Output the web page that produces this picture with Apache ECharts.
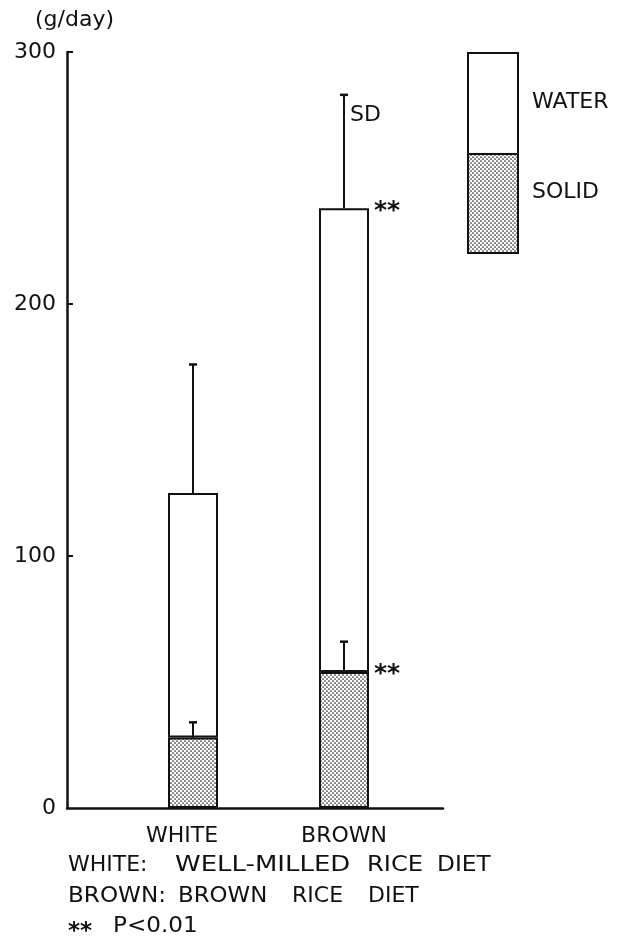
<!DOCTYPE html>
<html><head><meta charset="utf-8">
<script src="https://cdn.jsdelivr.net/npm/echarts@6/dist/echarts.min.js"></script>
<style>html,body{margin:0;padding:0;background:#fff}#c{width:627px;height:938px}</style>
</head><body><div id="c"></div>
<script>
// ---- data ----
const categories = ['WHITE', 'BROWN'];
const solidMean = [28, 54];
const solidSD = [6, 12];
const totalMean = [125, 238];
const totalSD = [51, 45];
const sigTotal = ['', '**'];
const sigSolid = ['', '**'];
const sdLabel = ['', 'SD'];
const yTicks = [0, 100, 200, 300];

const waterPart = totalMean.map((t, i) => t - solidMean[i]);

// dotted pattern
const tile = document.createElement('canvas');
tile.width = 4; tile.height = 4;
const tc = tile.getContext('2d');
tc.fillStyle = '#fff'; tc.fillRect(0, 0, 4, 4);
tc.fillStyle = '#222';
tc.beginPath(); tc.arc(1, 1, 0.85, 0, Math.PI * 2); tc.fill();
tc.beginPath(); tc.arc(3, 3, 0.85, 0, Math.PI * 2); tc.fill();
const dots = { image: tile, repeat: 'repeat' };

const FONT = 'DejaVu Sans';
const INK = '#111';
const FS = 22;
const F = FS + 'px "DejaVu Sans"';

const chart = echarts.init(document.getElementById('c'), null, { renderer: 'canvas' });

function errRender(meanArr, sdArr, sigArr, lblArr) {
  return function (params, api) {
    const i = params.dataIndex;
    const x = api.value(0);
    const m = meanArr[i], s = sdArr[i];
    const p0 = api.coord([x, m]);
    const p1 = api.coord([x, m + s]);
    const half = 25;
    const children = [
      { type: 'line', shape: { x1: p0[0], y1: p0[1], x2: p1[0], y2: p1[1] }, style: { stroke: INK, lineWidth: 2 } },
      { type: 'line', shape: { x1: p1[0] - 4, y1: p1[1], x2: p1[0] + 4, y2: p1[1] }, style: { stroke: INK, lineWidth: 2.5 } }
    ];
    if (sigArr[i]) {
      children.push({ type: 'text', style: { text: sigArr[i], x: p0[0] + half + 5, y: p0[1] + 3, fill: INK, font: 'bold 25px "DejaVu Sans"', verticalAlign: 'middle', align: 'left' } });
    }
    if (lblArr && lblArr[i]) {
      children.push({ type: 'text', style: { text: lblArr[i], x: p1[0] + 6, y: p1[1] + 20, fill: INK, font: F, verticalAlign: 'middle', align: 'left' } });
    }
    return { type: 'group', children };
  };
}

function word(text, x, y, sx) {
  return { type: 'text', x: x, y: y, scaleX: sx || 1, style: { text: text, x: 0, y: 0, font: F, fill: INK, verticalAlign: 'middle' } };
}

const option = {
  animation: false,
  backgroundColor: '#fff',
  textStyle: { fontFamily: FONT, color: INK },
  grid: [
    { left: 117.5, width: 302, top: 52, bottom: 130 },
    { left: 67, width: 376, top: 52, bottom: 130 }
  ],
  xAxis: [
    { type: 'category', gridIndex: 0, data: categories,
      axisLine: { show: false }, axisTick: { show: false },
      axisLabel: { fontSize: FS, color: INK, fontFamily: FONT, margin: 17, interval: 0, hideOverlap: false,
        formatter: (v, i) => i === 0 ? '{w|' + v + '}' : v,
        rich: { w: { fontSize: FS, fontFamily: FONT, color: INK, padding: [0, 22, 0, 0] } } } },
    { type: 'value', gridIndex: 1, min: 0, max: 1,
      axisLine: { show: true, lineStyle: { color: INK, width: 2.5 } },
      axisTick: { show: false }, axisLabel: { show: false }, splitLine: { show: false } }
  ],
  yAxis: [
    { type: 'value', gridIndex: 0, min: 0, max: 300, interval: 100, show: false },
    { type: 'value', gridIndex: 1, min: yTicks[0], max: yTicks[yTicks.length - 1], interval: 100,
      axisLine: { show: true, lineStyle: { color: INK, width: 2.5 } },
      axisTick: { show: true, inside: true, length: 6, lineStyle: { color: INK, width: 2 },
        customValues: yTicks.slice(1) },
      axisLabel: { fontSize: FS, color: INK, fontFamily: FONT, margin: 11 },
      splitLine: { show: false } }
  ],
  series: [
    { type: 'bar', name: 'SOLID', stack: 's', xAxisIndex: 0, yAxisIndex: 0, barWidth: 50,
      data: solidMean, itemStyle: { color: dots, borderColor: INK, borderWidth: 2 }, z: 2 },
    { type: 'bar', name: 'WATER', stack: 's', xAxisIndex: 0, yAxisIndex: 0, barWidth: 50,
      data: waterPart, itemStyle: { color: '#fff', borderColor: INK, borderWidth: 2 }, z: 2 },
    { type: 'custom', xAxisIndex: 0, yAxisIndex: 0, z: 5,
      data: categories.map((c, i) => [i, totalMean[i]]),
      renderItem: errRender(totalMean, totalSD, sigTotal, sdLabel) },
    { type: 'custom', xAxisIndex: 0, yAxisIndex: 0, z: 5,
      data: categories.map((c, i) => [i, solidMean[i]]),
      renderItem: errRender(solidMean, solidSD, sigSolid, null) }
  ],
  graphic: [
    { type: 'text', left: 35, top: 9, style: { text: '(g/day)', font: F, fill: INK } },
    // legend
    { type: 'rect', shape: { x: 468, y: 53, width: 50, height: 101 }, style: { fill: '#fff', stroke: INK, lineWidth: 2 } },
    { type: 'rect', shape: { x: 468, y: 154, width: 50, height: 99 }, style: { fill: dots, stroke: INK, lineWidth: 2 } },
    word('WATER', 532, 102),
    word('SOLID', 532, 192),
    // footnotes
    word('WHITE:', 68, 865),
    word('WELL-MILLED', 175, 865, 1.18),
    word('RICE', 367, 865, 1.1),
    word('DIET', 437, 865, 1.06),
    word('BROWN:', 68, 896, 1.05),
    word('BROWN', 178, 896, 1.04),
    word('RICE', 292, 896),
    word('DIET', 368, 896),
    { type: 'text', x: 68, y: 932, style: { text: '**', x: 0, y: 0, font: 'bold 23px "DejaVu Sans"', fill: INK, verticalAlign: 'middle' } },
    word('P<0.01', 113, 926, 1.05)
  ]
};
chart.setOption(option);
</script>
</body></html>
